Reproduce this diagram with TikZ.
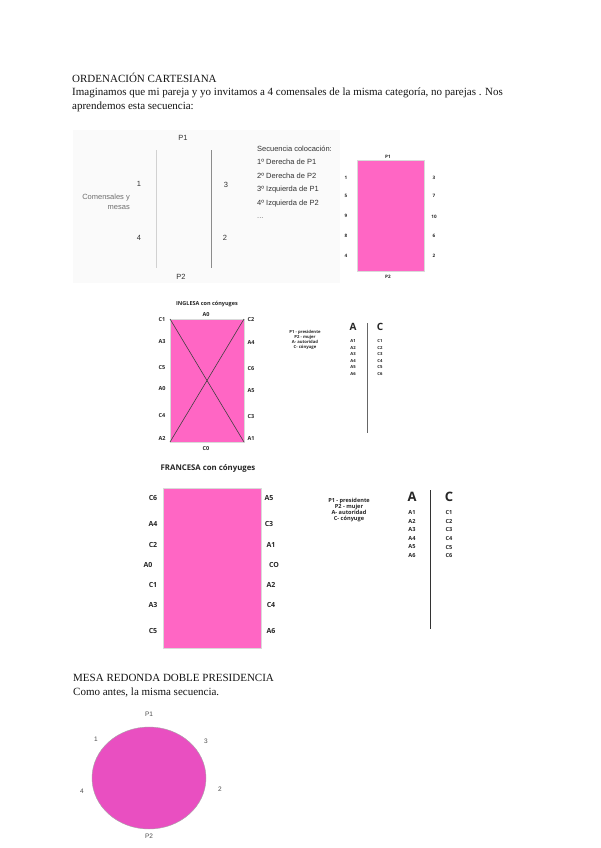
\documentclass[tikz,border=0pt]{standalone}
\usepackage{fontspec}
\usetikzlibrary{shapes.geometric}
\setmainfont{Liberation Serif}
\newfontfamily\arialf{Liberation Sans}
\newfontfamily\osans{Open Sans}
\definecolor{pinkA}{HTML}{FF66C4}
\definecolor{pinkB}{HTML}{E94FC1}
\definecolor{bgg}{HTML}{FAFAFA}
\definecolor{txtg}{HTML}{333333}
\definecolor{lblg}{HTML}{6E6E6E}
\tikzset{
  body/.style={anchor=base west, inner sep=0, font=\fontsize{11}{13}\selectfont, text=black!92},
  sl/.style={inner sep=0, font=\arialf\fontsize{7.5}{9}\selectfont, text=txtg},
  seq/.style={inner sep=0, anchor=west, font=\arialf\fontsize{7.5}{9}\selectfont, text=txtg},
  tiny/.style={inner sep=0, font=\osans\bfseries\fontsize{4.6}{5}\selectfont, text=black!85},
  ib/.style={inner sep=0, font=\osans\bfseries\fontsize{5.5}{6}\selectfont, text=black!85},
  fb/.style={inner sep=0, font=\osans\bfseries\fontsize{7}{8}\selectfont, text=black!85},
  tbl/.style={inner sep=0, font=\osans\bfseries\fontsize{4.2}{5}\selectfont, text=black!85},
  ftbl/.style={inner sep=0, font=\osans\bfseries\fontsize{5.6}{6}\selectfont, text=black!85},
  rl/.style={inner sep=0, font=\arialf\fontsize{6.5}{8}\selectfont, text=black!70},
  table/.style={draw=white!85!black, line width=0.4pt, fill=pinkA, inner sep=0, outer sep=0, anchor=north west},
}
\begin{document}
\begin{tikzpicture}[x=1pt,y=-1pt]
\useasboundingbox (0,0) rectangle (600,848);
\fill[white] (0,0) rectangle (600,848);
% header text
\node[body] (h1) at (72,82.7) {ORDENACIÓN CARTESIANA};
\node[body] (h2) at (72,96) {Imaginamos que mi pareja y yo invitamos a 4 comensales de la misma categoría, no parejas . Nos};
\node[body] (h3) at (72,109.3) {aprendemos esta secuencia:};
% diagram 1
\fill[bgg] (73,130) rectangle (340,283);
\draw[white!82!black, line width=0.5pt] (156,150) -- (156,268);
\draw[white!55!black, line width=1pt] (211,150) -- (211,268);
\node[sl] (p1a) at (183,138) {P1};
\node[sl] (p2a) at (181,276.5) {P2};
\node[sl] (n1) at (139,184) {1};
\node[sl] (n4) at (139,238) {4};
\node[sl] (n3) at (226,185) {3};
\node[sl] (n2) at (225,238) {2};
\node[sl, text=lblg, anchor=east, align=right] (cm) at (130,202) {Comensales y\\[1.5pt]mesas};
\node[seq] (s0) at (257,149) {Secuencia colocación:};
\node[seq] (s1) at (257,162) {1º Derecha de P1};
\node[seq] (s2) at (257,176) {2º Derecha de P2};
\node[seq] (s3) at (257,190) {3º Izquierda de P1};
\node[seq] (s4) at (257,204) {4º Izquierda de P2};
\node[seq, text=lblg] (s5) at (257,218) {...};
% small pink table
\node[table, minimum width=67, minimum height=111] (t1) at (357,160) {};
\node[tiny] (t1p1) at (388,156.5) {P1};
\node[tiny] (t1p2) at (388,277) {P2};
\node[tiny] (l1) at (346,178) {1};
\node[tiny] (l5) at (346,196) {5};
\node[tiny] (l9) at (346,216) {9};
\node[tiny] (l8) at (346,236) {8};
\node[tiny] (l4) at (346,256) {4};
\node[tiny] (r3) at (434,178) {3};
\node[tiny] (r7) at (434,196) {7};
\node[tiny] (r10) at (434,217) {10};
\node[tiny] (r6) at (434,236) {6};
\node[tiny] (r2) at (434,256) {2};
% INGLESA
\node[ib] (ti) at (207,304) {INGLESA con cónyuges};
\node[table, minimum width=74, minimum height=123] (t2) at (170,319) {};
\draw[black!75, line width=0.6pt] (t2.north west) -- (t2.south east);
\draw[black!75, line width=0.6pt] (t2.north east) -- (t2.south west);
\node[ib] (ia0) at (206,315) {A0};
\node[ib] (ic0) at (206,449) {C0};
\node[ib] (il1) at (162,320) {C1};
\node[ib] (il2) at (162,342) {A3};
\node[ib] (il3) at (162,368) {C5};
\node[ib] (il4) at (162,389) {A0};
\node[ib] (il5) at (162,416) {C4};
\node[ib] (il6) at (162,439) {A2};
\node[ib] (ir1) at (251,320) {C2};
\node[ib] (ir2) at (251,343) {A4};
\node[ib] (ir3) at (251,369) {C6};
\node[ib] (ir4) at (251,391) {A5};
\node[ib] (ir5) at (251,417) {C3};
\node[ib] (ir6) at (251,439) {A1};
\node[tbl, align=center] (ileg) at (305,339.5) {P1 - presidente\\P2 - mujer\\A- autoridad\\C- cónyuge};
\node[inner sep=0, font=\osans\bfseries\fontsize{10}{10}\selectfont, text=black!85] (iA) at (353,327) {A};
\node[inner sep=0, font=\osans\bfseries\fontsize{10}{10}\selectfont, text=black!85] (iC) at (380,327) {C};
\draw[black!60, line width=1pt] (367,323) -- (367,433);
\foreach \i/\y in {1/341,2/348,3/354,4/361,5/367,6/374}{
  \node[tbl] (ia\i) at (353,\y) {A\i};
  \node[tbl] (ic\i) at (380,\y) {C\i};
}
% FRANCESA
\node[fb, font=\osans\bfseries\fontsize{7.8}{9}\selectfont] (tf) at (208,468) {FRANCESA con cónyuges};
\node[table, minimum width=98, minimum height=160] (t3) at (163,488) {};
\node[fb] (fl1) at (153,498) {C6};
\node[fb] (fl2) at (153,524) {A4};
\node[fb] (fl3) at (153,545) {C2};
\node[fb] (fl4) at (148,565) {A0};
\node[fb] (fl5) at (153,585) {C1};
\node[fb] (fl6) at (153,605) {A3};
\node[fb] (fl7) at (153,631) {C5};
\node[fb] (fr1) at (269,498) {A5};
\node[fb] (fr2) at (269,524) {C3};
\node[fb] (fr3) at (271,545) {A1};
\node[fb] (fr4) at (274,565) {CO};
\node[fb] (fr5) at (271,585) {A2};
\node[fb] (fr6) at (271,605) {C4};
\node[fb] (fr7) at (271,631) {A6};
\node[ftbl, align=center] (fleg) at (349,510.5) {P1 - presidente\\P2 - mujer\\A- autoridad\\C- cónyuge};
\node[inner sep=0, font=\osans\bfseries\fontsize{13}{13}\selectfont, text=black!85] (fA) at (412,497) {A};
\node[inner sep=0, font=\osans\bfseries\fontsize{13}{13}\selectfont, text=black!85] (fC) at (449,497) {C};
\draw[black!80, line width=1pt] (430,490) -- (430,629);
\foreach \i/\y in {1/512,2/521,3/529,4/538,5/547,6/555}{
  \node[ftbl] (fa\i) at (412,\y) {A\i};
  \node[ftbl] (fc\i) at (449,\y) {C\i};
}
% MESA REDONDA
\node[body] (m1) at (73,681) {MESA REDONDA DOBLE PRESIDENCIA};
\node[body] (m2) at (73,695) {Como antes, la misma secuencia.};
\node[draw=black!35, line width=0.4pt, fill=pinkB, ellipse, minimum width=114, minimum height=102, inner sep=0] (el) at (149,778) {};
\node[rl] (ep1) at (149,714) {P1};
\node[rl] (ep2) at (149,836) {P2};
\node[rl] (e1) at (96,739) {1};
\node[rl] (e3) at (206,741) {3};
\node[rl] (e4) at (82,791) {4};
\node[rl] (e2) at (220,789) {2};
\end{tikzpicture}
\end{document}
